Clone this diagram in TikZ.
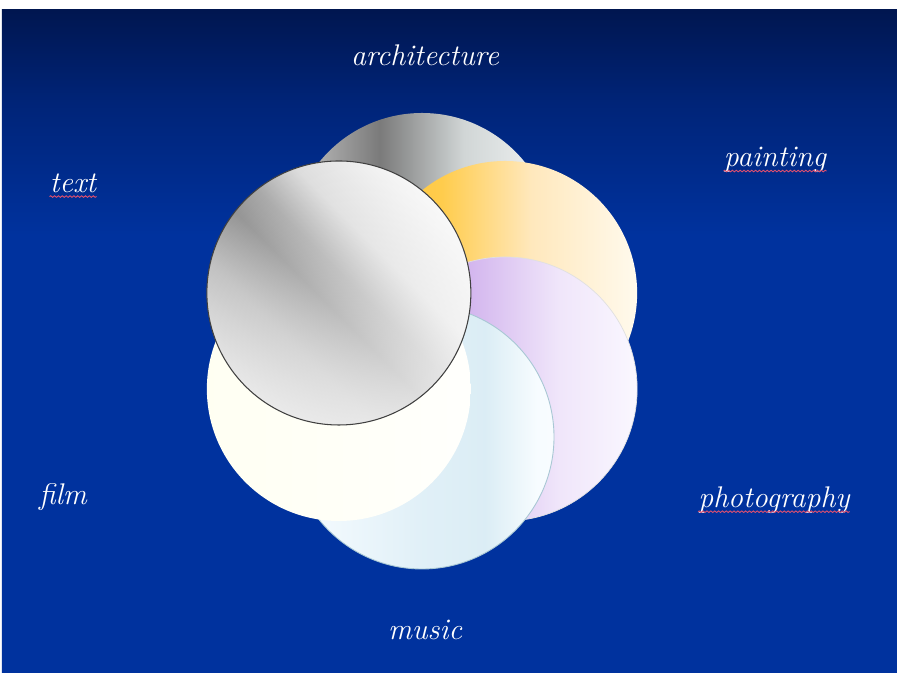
\documentclass[tikz,border=0pt]{standalone}
\usetikzlibrary{calc}
\usetikzlibrary{math, decorations.pathmorphing, fadings}
\definecolor{bgblue}{RGB}{0,50,158}
\definecolor{bgmid}{RGB}{0,36,120}
\definecolor{bgnavy}{RGB}{0,22,80}
\definecolor{wavyred}{RGB}{225,80,110}
\pgfdeclareverticalshading{bgshade}{100bp}{color(0bp)=(bgblue); color(25bp)=(bgblue); color(58bp)=(bgblue); color(68bp)=(bgmid); color(75bp)=(bgnavy); color(100bp)=(bgnavy)}
\pgfdeclarehorizontalshading{archshade}{100bp}{rgb(0bp)=(0.78,0.78,0.78); rgb(25bp)=(0.78,0.78,0.78); rgb(42bp)=(0.48,0.48,0.48); rgb(58bp)=(0.82,0.84,0.84); rgb(75bp)=(0.95,0.96,0.96); rgb(100bp)=(0.95,0.96,0.96)}
\pgfdeclarehorizontalshading{paintshade}{100bp}{rgb(0bp)=(1,0.78,0.22); rgb(25bp)=(1,0.78,0.22); rgb(38bp)=(1,0.8,0.3); rgb(55bp)=(1,0.91,0.74); rgb(75bp)=(1,0.98,0.93); rgb(100bp)=(1,0.98,0.93)}
\pgfdeclarehorizontalshading{photoshade}{100bp}{rgb(0bp)=(0.78,0.64,0.92); rgb(25bp)=(0.78,0.64,0.92); rgb(42bp)=(0.82,0.7,0.93); rgb(60bp)=(0.94,0.9,0.98); rgb(75bp)=(0.98,0.97,1); rgb(100bp)=(0.98,0.97,1)}
\pgfdeclarehorizontalshading{musicshade}{100bp}{rgb(0bp)=(0.97,0.99,1); rgb(25bp)=(0.97,0.99,1); rgb(50bp)=(0.88,0.94,0.97); rgb(62bp)=(0.86,0.93,0.96); rgb(72bp)=(0.97,0.99,1); rgb(100bp)=(0.98,0.99,1)}
\pgfdeclarehorizontalshading{filmshade}{100bp}{rgb(0bp)=(1,1,0.95); rgb(25bp)=(1,1,0.95); rgb(75bp)=(1,1,0.99); rgb(100bp)=(1,1,0.99)}
\pgfdeclarehorizontalshading{frontshade}{100bp}{rgb(0bp)=(0.86,0.86,0.86); rgb(25bp)=(0.86,0.86,0.86); rgb(37bp)=(0.74,0.74,0.74); rgb(47bp)=(0.58,0.58,0.58); rgb(53bp)=(0.66,0.66,0.66); rgb(61bp)=(0.86,0.86,0.86); rgb(75bp)=(0.96,0.96,0.96); rgb(100bp)=(0.96,0.96,0.96)}
\tikzfading[name=frontfade, left color=transparent!100, right color=transparent!30]

\begin{document}
\begin{tikzpicture}[lbl/.style={text=white,font=\fontsize{17}{19}\selectfont\itshape,inner sep=0pt},
  squiggle/.style={draw=wavyred,line width=0.5pt,decorate,decoration={snake,amplitude=0.45pt,segment length=2.2pt}}]
\tikzmath{
\R=2.64;
\D=1.92;
}

\fill[white] (0,0) rectangle (17.94,13.46);
\shade[shading=bgshade] (0.04,0) rectangle (17.94,13.26);

\coordinate (CM) at (8.44,6.64);

% rosette, back to front
\shade[shading=archshade] ($(CM)+(90:\D)$) circle(\R);
\shade[shading=paintshade] ($(CM)+(30:\D)$) circle(\R);
\shade[shading=photoshade,draw=black!12,line width=0.4pt] ($(CM)+(-30:\D)$) circle(\R);
\shade[shading=musicshade,draw=black!45!cyan!40,line width=0.5pt] ($(CM)+(-90:\D)$) circle(\R);
\shade[shading=filmshade] ($(CM)+(210:\D)$) circle(\R);
\shade[shading=frontshade,shading angle=45] ($(CM)+(150:\D)$) circle(\R);
\fill[white,path fading=frontfade,fading angle=-45] ($(CM)+(150:\D)$) circle(\R);
\draw[black!75,line width=0.6pt] ($(CM)+(150:\D)$) circle(\R);

\node[lbl] (arch) at (8.5,12.36) {architecture};
\node[lbl] (paint) at (15.5,10.26) {painting};
\node[lbl] (txt) at (1.46,9.8) {text};
\node[lbl] (film) at (1.26,3.52) {film};
\node[lbl] (photo) at (15.48,3.46) {photography};
\node[lbl] (music) at (8.5,0.86) {music};

\draw[squiggle] ([yshift=-2.5pt]txt.base west) -- ([yshift=-2.5pt]txt.base east);
\draw[squiggle] ([yshift=-2.5pt]paint.base west) -- ([yshift=-2.5pt]paint.base east);
\draw[squiggle] ([yshift=-2.5pt]photo.base west) -- ([yshift=-2.5pt]photo.base east);
\end{tikzpicture}
\end{document}
